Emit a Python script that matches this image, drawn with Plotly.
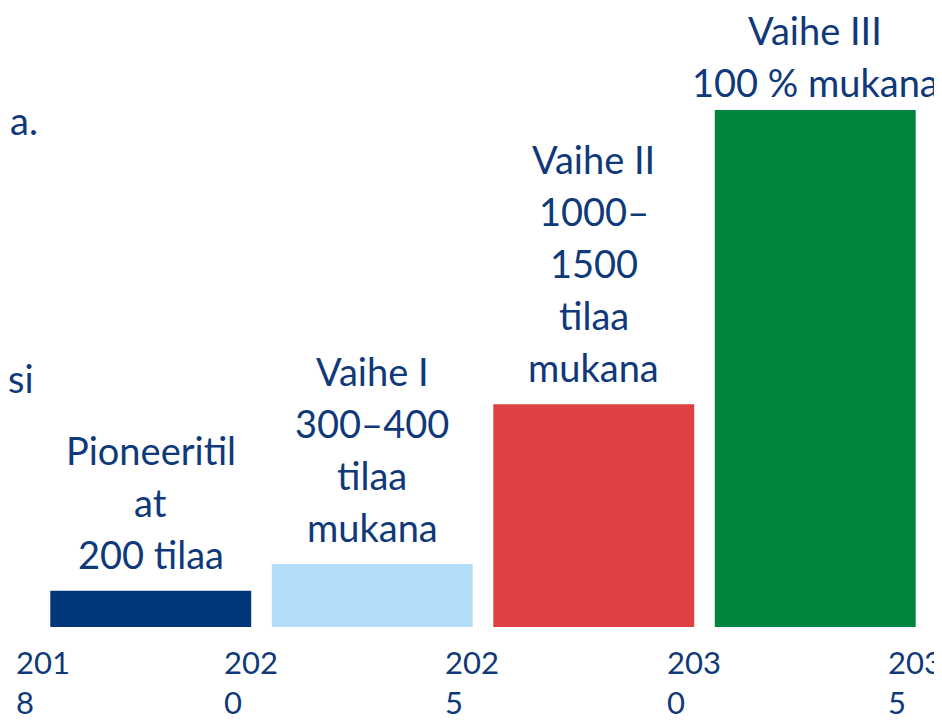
import plotly.graph_objects as go

# Data
phases = ["Pioneeritilat", "Vaihe I", "Vaihe II", "Vaihe III"]
values = [7.0, 12.2, 43.1, 100.0]          # relative bar heights (Vaihe III = 100)
bar_labels = [
    "Pioneeritil<br>at<br>200 tilaa",
    "Vaihe I<br>300–400<br>tilaa<br>mukana",
    "Vaihe II<br>1000–<br>1500<br>tilaa<br>mukana",
    "Vaihe III<br>100 % mukana",
]
colors = ["#00367A", "#B3DDF8", "#DD4143", "#008540"]
year_ticks = ["201<br>8", "202<br>0", "202<br>5", "203<br>0", "203<br>5"]
side_texts = ["a.", "si"]

TEXT = "#10397A"
FONT = "Lato"
FS = 38
TICK_FS = 31
LINE_GAP = 52

x = list(range(1, len(phases) + 1))

fig = go.Figure()
fig.add_trace(go.Bar(
    x=x, y=values, marker_color=colors, marker_line_width=0,
    width=0.907, hoverinfo="skip",
))

annotations = []
for k, (xi, v, lab) in enumerate(zip(x, values, bar_labels)):
    lines = lab.split("<br>")
    n = len(lines)
    base = 3 if k == len(x) - 1 else 12
    for j, ln in enumerate(lines):
        annotations.append(dict(
            x=xi, y=v, xref="x", yref="y", text=ln, showarrow=False,
            xanchor="center", yanchor="bottom",
            yshift=base + (n - 1 - j) * LINE_GAP,
            font=dict(family=FONT, size=FS, color=TEXT),
        ))

# year labels at the boundaries of the bars
for i, t in enumerate(year_ticks):
    annotations.append(dict(
        x=0.5 + i, y=0, xref="x", yref="paper", text=t, showarrow=False,
        xanchor="left", yanchor="top", yshift=-14,
        xshift=(-26 if i == 0 else -40),
        font=dict(family=FONT, size=TICK_FS, color=TEXT), align="left",
    ))

# text fragments at the left edge
for t, xx, yy in zip(side_texts, [0.0, -0.004], [0.98, 0.482]):
    annotations.append(dict(
        x=xx, y=yy, xref="paper", yref="paper", text=t, showarrow=False,
        xanchor="right", yanchor="middle",
        font=dict(family=FONT, size=FS, color=TEXT),
    ))

fig.update_layout(
    width=942, height=721,
    margin=dict(l=32, r=24, t=102, b=102),
    paper_bgcolor="white", plot_bgcolor="white",
    showlegend=False, bargap=0.09,
    xaxis=dict(range=[0.5, 4.5], visible=False, fixedrange=True),
    yaxis=dict(range=[0, 100], visible=False, fixedrange=True),
    annotations=annotations,
)

fig.write_html("out.html")
